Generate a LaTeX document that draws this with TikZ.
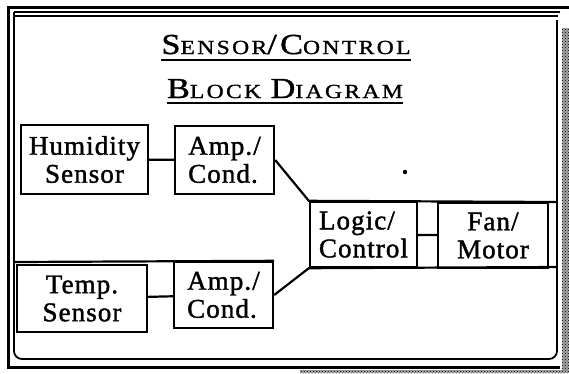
\documentclass[tikz,border=0pt]{standalone}
\usepackage{fontspec}
\setmainfont{Liberation Serif}
\newfontfamily\titlefont[LetterSpace=10, FakeBold=1.2]{Liberation Serif}
\newfontfamily\blockfont[LetterSpace=4, FakeBold=1.5]{Liberation Serif}
\usepackage{tikz}
\usetikzlibrary{patterns}

\newcommand\capbig[1]{{\fontsize{29}{30}\selectfont #1}}
\newcommand\capsmall[1]{{\fontsize{20}{24}\selectfont #1}}

\begin{document}
\begin{tikzpicture}[x=1pt, y=-1pt,
  blk/.style={draw, line width=2.4pt, inner sep=0pt,
              font=\blockfont\fontsize{27}{28}\selectfont},
  wire/.style={line width=2.2pt},
  ttl/.style={inner sep=0pt, anchor=base, font=\titlefont}]
  \useasboundingbox (0,0) rectangle (569,373);

  % frame and shading
  \fill[black!35] (562,28) rectangle (569,373);
  \fill[black!35] (300,370) rectangle (562,373);
  \fill[pattern=crosshatch dots] (562,28) rectangle (569,373);
  \fill[pattern=crosshatch dots] (300,370) rectangle (562,373);
  \draw[line width=3pt] (569,7) -- (8,7) -- (8,367) -- (560,367);
  \draw[line width=1.8pt] (14,12) -- (560,12);
  \draw[line width=1.8pt] (14,16) -- (558,16);
  \draw[line width=1.8pt, rounded corners=8pt] (14,12) -- (14,359) -- (557,359) -- (557,20);

  % title
  \node[ttl] (tone) at (286,54) {\scalebox{1.18}[1]{\capbig{S}\capsmall{ENSOR}\capbig{/C}\capsmall{ONTROL}}};
  \node[ttl] (ttwo) at (285,98) {\scalebox{1.18}[1]{\capbig{B}\capsmall{LOCK}\hspace{8pt}\capbig{D}\capsmall{IAGRAM}}};
  \draw[line width=2.6pt] ([yshift=-6pt]tone.base west) -- ([yshift=-6pt]tone.base east);
  \draw[line width=2.6pt] ([yshift=-5pt]ttwo.base west) -- ([yshift=-5pt]ttwo.base east);

  % blocks
  \node[blk, minimum width=127pt, minimum height=69pt, align=center] (hum) at (84.5,159.5) {Humidity\\Sensor};
  \node[blk, minimum width=99pt, minimum height=68pt, align=left] (ampa) at (224.5,160) {Amp./\\Cond.};
  \node[blk, minimum width=130pt, minimum height=67pt, align=center] (tmp) at (82,298.5) {Temp.\\Sensor};
  \node[blk, minimum width=99pt, minimum height=66pt, align=left] (ampb) at (223.5,295) {Amp./\\Cond.};
  \node[blk, minimum width=107pt, minimum height=65pt, align=left] (logic) at (363.5,234.5) {Logic/\\Control};
  \node[blk, minimum width=110pt, minimum height=65pt, align=center] (fan) at (493,235.5) {Fan/\\Motor};

  \coordinate (lf) at (14,262);
  \coordinate (rt) at (557,202);
  \coordinate (rb) at (557,267);

  % connectors
  \draw[wire] (hum) -- (ampa);
  \draw[wire] (tmp) -- (ampb);
  \draw[wire] (logic) -- (fan);
  \draw[wire] (ampa.east) -- (logic.north west) -- (rt);
  \draw[wire] (ampb.east) -- (logic.south west) -- (rb);
  \draw[wire] (lf) -- (ampb.north east);

  \fill (405,172) circle (2.2pt);
\end{tikzpicture}
\end{document}
